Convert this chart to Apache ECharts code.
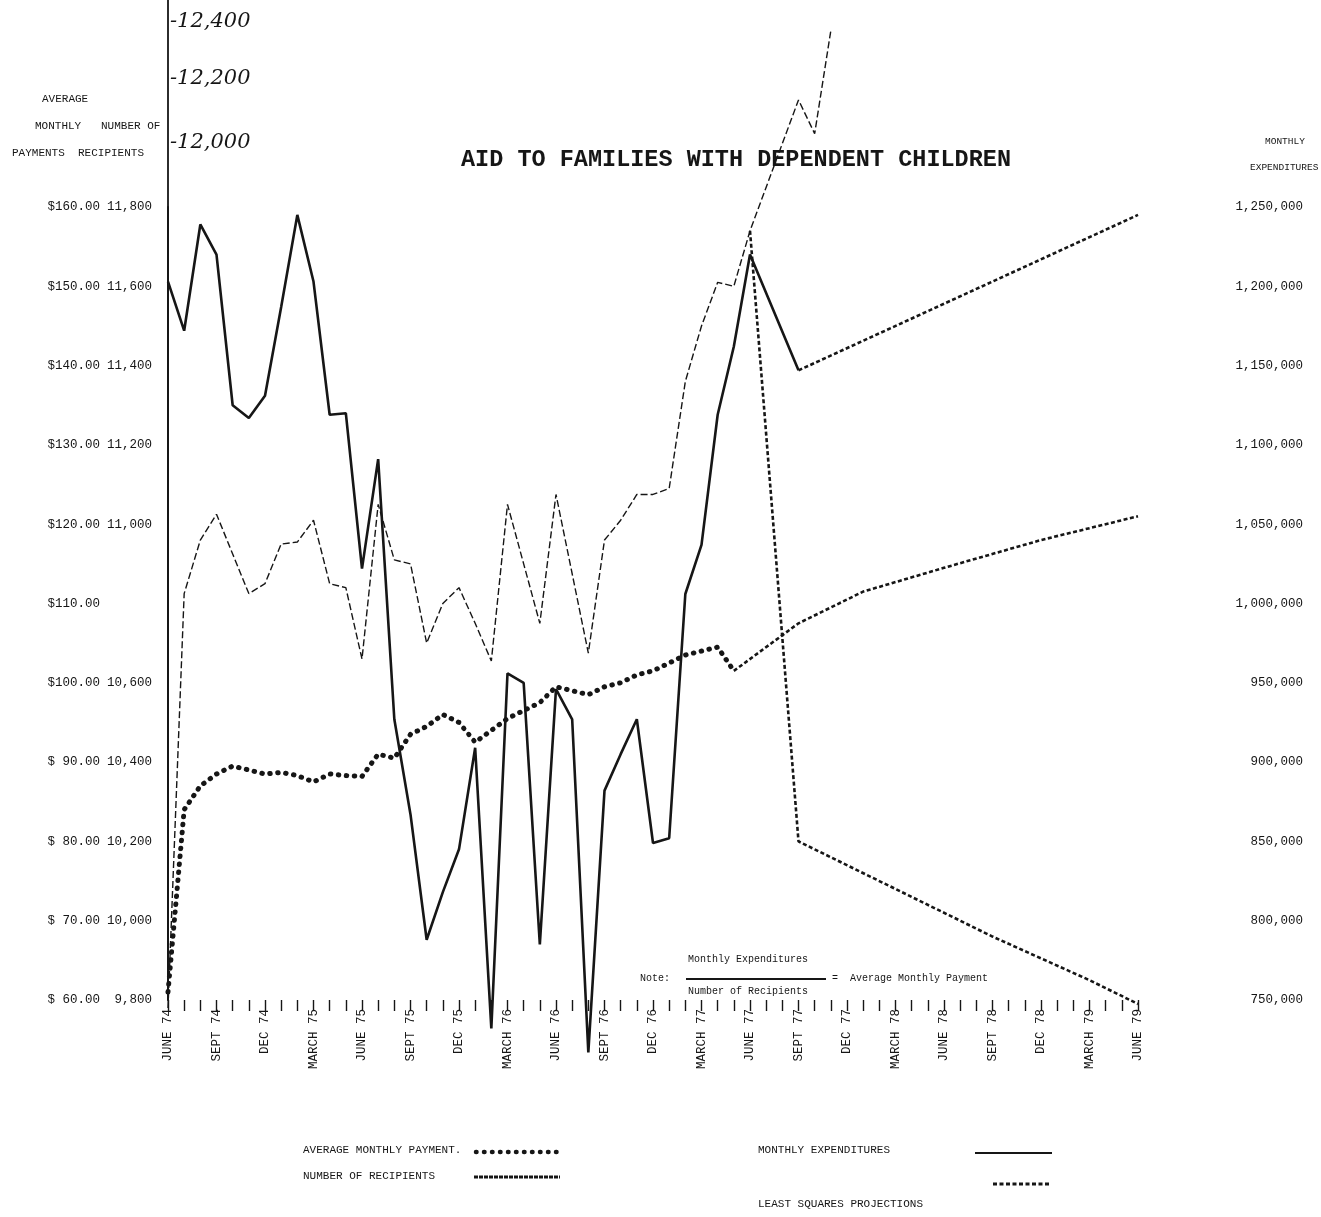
<!DOCTYPE html>
<html><head><meta charset="utf-8">
<script src="https://cdn.jsdelivr.net/npm/echarts/dist/echarts.min.js"></script>
<style>html,body{margin:0;padding:0;background:#fff}#c{width:1321px;height:1217px}</style>
</head><body><div id="c"></div><script>
// ---- data (month index 0 = June 1974) ----
const quarterLabels = ['JUNE 74','SEPT 74','DEC 74','MARCH 75','JUNE 75','SEPT 75','DEC 75','MARCH 76','JUNE 76','SEPT 76','DEC 76','MARCH 77','JUNE 77','SEPT 77','DEC 77','MARCH 78','JUNE 78','SEPT 78','DEC 78','MARCH 79','JUNE 79'];

const avgMonthlyPayment = [61,84,87,88.5,89.5,89,88.5,88.7,88.3,87.5,88.5,88.3,88.2,91,90.5,93.5,94.5,96,95,92.5,94,95.5,96.5,97.5,99.5,99,98.5,99.5,100,101,101.5,102.5,103.5,104,104.5,101.5];

const numberOfRecipients = [9780,10825,10960,11025,10925,10825,10850,10950,10955,11010,10850,10840,10660,11050,10910,10900,10700,10800,10840,10750,10655,11050,10900,10750,11075,10875,10675,10960,11010,11075,11075,11090,11360,11500,11610,11600,11740,null,null,12070,11985,12245];

const monthlyExpenditures = [1203000,1172000,1239000,1220000,1125000,1117000,1131000,1187000,1245000,1203000,1119000,1120000,1022000,1091000,927000,867000,788000,818000,845000,909000,732000,956000,950000,785000,946000,927000,717000,882000,905000,927000,849000,852000,1006000,1037000,1119000,1162000,1220000,null,null,1147000];

const projPaymentMonths = [35,39,43,48,54,60];
const projPaymentValues = [101.5,107.5,111.5,114.5,118,121];
const projRecipientMonths = [36,39,45,51,57,60];
const projRecipientValues = [11740,10200,10080,9960,9850,9790];
const projExpenditureMonths = [39,60];
const projExpenditureValues = [1147000,1245000];

const handTicks = ['-12,400','-12,200','-12,000'];

// ---- helpers ----
const pairs = arr => arr.map((v,i)=> v==null?null:[i,v]).filter(Boolean);
const zip = (ms,vs) => ms.map((m,i)=>[m,vs[i]]);
const fmtInt = v => String(v).replace(/\B(?=(\d{3})+(?!\d))/g, ',');

const FONT = '"Liberation Mono","DejaVu Sans Mono",monospace';
const INK = '#161616';
const Y0 = 1000, YTOP = 207;            // pixel rows of $60 and $160
const rowPx = (Y0 - YTOP) / 10;
const rowsAbove = Y0 / rowPx;           // rows available up to the page top

const chart = echarts.init(document.getElementById('c'), null, {renderer:'canvas'});
const baseX = {
  type:'value', min:0, max:60, interval:1,
  axisLine:{show:false}, splitLine:{show:false},
  axisTick:{show:true, length:11, lineStyle:{color:INK, width:1.4}},
  axisLabel:{show:false}
};
chart.setOption({
  animation:false,
  backgroundColor:'#fff',
  title:{text:'AID TO FAMILIES WITH DEPENDENT CHILDREN', left:456, top:143,
    textStyle:{fontFamily:FONT, fontSize:23.5, fontWeight:'bold', color:INK}},
  grid:[
    {left:168, right:183, top:0, bottom:1217-Y0},
    {left:168, right:183, top:YTOP, bottom:1217-Y0}
  ],
  xAxis:[
    Object.assign({}, baseX, {gridIndex:0,
      axisLabel:{show:true, rotate:90, margin:9, fontFamily:FONT, fontSize:12.5, color:INK,
        formatter:v => (v%3===0 && v<=60) ? quarterLabels[v/3] : ''}}),
    Object.assign({}, baseX, {gridIndex:1, axisTick:{show:false}})
  ],
  yAxis:[
    {type:'value', gridIndex:0, position:'left', min:60, max:60+rowsAbove*10, interval:10,
      axisLine:{show:true, lineStyle:{color:INK, width:1.8}}, axisTick:{show:false}, splitLine:{show:false},
      axisLabel:{margin:68, fontFamily:FONT, fontSize:12.5, color:INK,
        formatter:v => v>160 ? '' : (v<100?'$ ':'$') + v.toFixed(2)}},
    {type:'value', gridIndex:0, position:'left', min:9800, max:9800+rowsAbove*200, interval:200,
      axisLine:{show:false}, axisTick:{show:false}, splitLine:{show:false},
      axisLabel:{margin:16, fontFamily:FONT, fontSize:12.5, color:INK,
        formatter:v => (v>11800 || v===10800) ? '' : fmtInt(v)}},
    {type:'value', gridIndex:1, position:'right', offset:77, min:750000, max:1250000, interval:50000,
      axisLine:{show:true, lineStyle:{color:INK, width:1.8}}, axisTick:{show:false}, splitLine:{show:false},
      axisLabel:{margin:88, align:'right', fontFamily:FONT, fontSize:12.5, color:INK, formatter:v => fmtInt(v)}}
  ],
  series:[
    {name:'AVERAGE MONTHLY PAYMENT', type:'line', xAxisIndex:0, yAxisIndex:0, clip:false,
      data:pairs(avgMonthlyPayment), showSymbol:false,
      lineStyle:{color:INK, width:5, type:[0.5,7.5], cap:'round'}},
    {name:'NUMBER OF RECIPIENTS', type:'line', xAxisIndex:0, yAxisIndex:1, clip:false,
      data:pairs(numberOfRecipients), showSymbol:false,
      lineStyle:{color:INK, width:1.4, type:[7,3]}},
    {name:'MONTHLY EXPENDITURES', type:'line', xAxisIndex:1, yAxisIndex:2, clip:false,
      data:pairs(monthlyExpenditures), showSymbol:false,
      lineStyle:{color:INK, width:2.6}},
    {name:'LEAST SQUARES PROJECTIONS', type:'line', xAxisIndex:0, yAxisIndex:0, clip:false,
      data:zip(projPaymentMonths, projPaymentValues), showSymbol:false,
      lineStyle:{color:INK, width:2.6, type:[4,2.5]}},
    {name:'LEAST SQUARES PROJECTIONS (recipients)', type:'line', xAxisIndex:0, yAxisIndex:1, clip:false,
      data:zip(projRecipientMonths, projRecipientValues), showSymbol:false,
      lineStyle:{color:INK, width:2.6, type:[4,2.5]}},
    {name:'LEAST SQUARES PROJECTIONS (expenditures)', type:'line', xAxisIndex:1, yAxisIndex:2, clip:false,
      data:zip(projExpenditureMonths, projExpenditureValues), showSymbol:false,
      lineStyle:{color:INK, width:2.6, type:[4,2.5]}}
  ],
  graphic:[
    // axis headers
    {type:'text', left:42, top:94, style:{text:'AVERAGE', font:'11px '+FONT, fill:INK}},
    {type:'text', left:35, top:121, style:{text:'MONTHLY   NUMBER OF', font:'11px '+FONT, fill:INK}},
    {type:'text', left:12, top:148, style:{text:'PAYMENTS  RECIPIENTS', font:'11px '+FONT, fill:INK}},
    {type:'text', left:1265, top:136, style:{text:'MONTHLY', font:'9.5px '+FONT, fill:INK}},
    {type:'text', left:1250, top:162, style:{text:'EXPENDITURES', font:'9.5px '+FONT, fill:INK}},
    // hand-written scale extension
    {type:'text', left:170, top:11, style:{text:handTicks[0], font:'italic 21px "DejaVu Serif"', fill:INK}},
    {type:'text', left:170, top:68, style:{text:handTicks[1], font:'italic 21px "DejaVu Serif"', fill:INK}},
    {type:'text', left:170, top:132, style:{text:handTicks[2], font:'italic 21px "DejaVu Serif"', fill:INK}},
    // note
    {type:'text', left:640, top:973, style:{text:'Note:', font:'10px '+FONT, fill:INK}},
    {type:'text', left:688, top:954, style:{text:'Monthly Expenditures', font:'10px '+FONT, fill:INK}},
    {type:'line', shape:{x1:686, y1:979, x2:826, y2:979}, style:{stroke:INK, lineWidth:2}},
    {type:'text', left:688, top:986, style:{text:'Number of Recipients', font:'10px '+FONT, fill:INK}},
    {type:'text', left:832, top:973, style:{text:'=  Average Monthly Payment', font:'10px '+FONT, fill:INK}},
    // legend
    {type:'text', left:303, top:1145, style:{text:'AVERAGE MONTHLY PAYMENT.', font:'11px '+FONT, fill:INK}},
    {type:'line', shape:{x1:476, y1:1152, x2:564, y2:1152}, style:{stroke:INK, lineWidth:4.5, lineDash:[0.5,7.5], lineCap:'round'}},
    {type:'text', left:303, top:1171, style:{text:'NUMBER OF RECIPIENTS', font:'11px '+FONT, fill:INK}},
    {type:'line', shape:{x1:474, y1:1177, x2:560, y2:1177}, style:{stroke:INK, lineWidth:3, lineDash:[4,1]}},
    {type:'text', left:758, top:1145, style:{text:'MONTHLY EXPENDITURES', font:'11px '+FONT, fill:INK}},
    {type:'line', shape:{x1:975, y1:1153, x2:1052, y2:1153}, style:{stroke:INK, lineWidth:2}},
    {type:'line', shape:{x1:993, y1:1184, x2:1050, y2:1184}, style:{stroke:INK, lineWidth:3, lineDash:[4,2.5]}},
    {type:'text', left:758, top:1199, style:{text:'LEAST SQUARES PROJECTIONS', font:'11px '+FONT, fill:INK}}
  ]
});
</script></body></html>
